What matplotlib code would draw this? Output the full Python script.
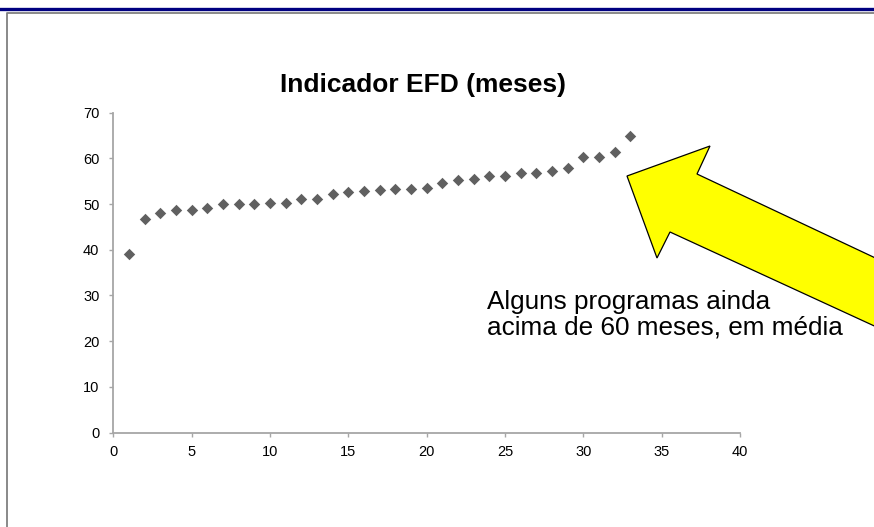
import matplotlib
matplotlib.use("Agg")
import matplotlib.pyplot as plt
from matplotlib.patches import Polygon
from matplotlib.lines import Line2D

plt.rcParams['font.family'] = ['Liberation Sans', 'DejaVu Sans']

# Programas ordenados pelo indicador EFD (meses)
programas = list(range(1, 34))
efd_meses = [39.1, 46.8, 48.0, 48.8, 48.8, 49.2, 50.1, 50.1, 50.1, 50.2,
             50.2, 51.2, 51.2, 52.1, 52.6, 52.8, 53.0, 53.2, 53.4, 53.6,
             54.6, 55.3, 55.4, 56.1, 56.2, 56.9, 56.9, 57.3, 57.9, 60.2,
             60.4, 61.4, 64.9]

x_ticks = [0, 5, 10, 15, 20, 25, 30, 35, 40]
y_ticks = [0, 10, 20, 30, 40, 50, 60, 70]

titulo = "Indicador EFD (meses)"
nota = "Alguns programas ainda\nacima de 60 meses, em média"

W, H = 874, 527
fig = plt.figure(figsize=(W / 100, H / 100), dpi=100)
fig.patch.set_facecolor("white")


def fx(px):
    return px / W


def fy(py):
    return 1 - py / H


# Slide decoration: navy rule and the frame of the chart area
fig.add_artist(Line2D([0, 1], [fy(9), fy(9)], transform=fig.transFigure,
                      color="#000080", lw=2.4))
fig.add_artist(Line2D([fx(6.5), fx(6.5), 1], [0, fy(12.5), fy(12.5)],
                      transform=fig.transFigure, color="#808080", lw=1.3))

ax = fig.add_axes([fx(113.3), fy(432.5), fx(740) - fx(113.3), fy(112.7) - fy(432.5)])
ax.scatter(programas, efd_meses, marker="D", s=34, color="#606060",
           linewidths=0, zorder=3, clip_on=False)

ax.set_xlim(x_ticks[0], x_ticks[-1])
ax.set_ylim(y_ticks[0], y_ticks[-1])
ax.set_xticks(x_ticks)
ax.set_yticks(y_ticks)
ax.set_xticklabels([str(v) for v in x_ticks])
ax.set_yticklabels([str(v) for v in y_ticks])

for side in ("top", "right"):
    ax.spines[side].set_visible(False)
for side in ("left", "bottom"):
    ax.spines[side].set_color("#a6a6a6")
    ax.spines[side].set_linewidth(1.3)
ax.tick_params(axis="both", direction="out", length=3, width=1.0,
               color="#a6a6a6", labelsize=10.5, labelcolor="black")
ax.tick_params(axis="x", pad=6)
ax.tick_params(axis="y", pad=7)

fig.text(fx(423), fy(85), titulo, ha="center", va="center",
         fontsize=19, fontweight="bold")

fig.text(fx(487), fy(315), nota, ha="left", va="center",
         fontsize=18.8, linespacing=1.1)

# Large yellow block arrow pointing at the highest values
arrow_px = [(627, 176), (710, 146), (697, 174), (920, 279),
            (920, 347), (670, 232), (657, 258)]
arrow = Polygon([(fx(px), fy(py)) for px, py in arrow_px], closed=True,
                transform=fig.transFigure, facecolor="#ffff00",
                edgecolor="black", linewidth=0.9, zorder=5)
fig.add_artist(arrow)

fig.savefig("out.png", dpi=100, facecolor="white")
